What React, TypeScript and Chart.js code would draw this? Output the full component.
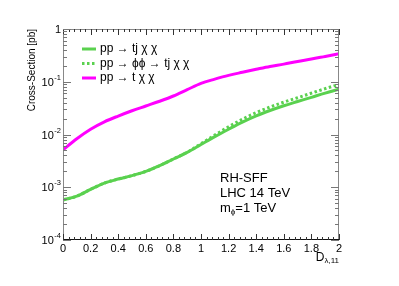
import React, { useEffect, useRef } from "react";
import { Chart, registerables } from "chart.js";

Chart.register(...registerables);

const dValues = [0, 0.1, 0.2, 0.3, 0.4, 0.5, 0.6, 0.7, 0.8, 0.9, 1.0, 1.1, 1.2, 1.3, 1.4, 1.5, 1.6, 1.7, 1.8, 1.9, 2.0];
const tjxx = [5.75e-4, 6.76e-4, 9.12e-4, 1.2e-3, 1.43e-3, 1.66e-3, 2.0e-3, 2.57e-3, 3.43e-3, 4.57e-3, 6.46e-3, 9.12e-3, 1.26e-2, 1.72e-2, 2.26e-2, 2.85e-2, 3.51e-2, 4.22e-2, 5.07e-2, 6.1e-2, 7.24e-2];
const phiphi = [5.75e-4, 6.76e-4, 9.12e-4, 1.2e-3, 1.43e-3, 1.66e-3, 2.0e-3, 2.57e-3, 3.43e-3, 4.62e-3, 6.68e-3, 9.77e-3, 1.4e-2, 1.95e-2, 2.6e-2, 3.31e-2, 4.1e-2, 4.98e-2, 6.07e-2, 7.41e-2, 8.91e-2];
const txx = [5.13e-3, 8.32e-3, 1.26e-2, 1.74e-2, 2.24e-2, 2.82e-2, 3.47e-2, 4.27e-2, 5.37e-2, 7.08e-2, 9.33e-2, 0.112, 0.132, 0.151, 0.172, 0.195, 0.216, 0.243, 0.269, 0.302, 0.339];

const seriesLabels = ["pp \u2192 tj \u03c7 \u03c7", "pp \u2192 \u03d5\u03d5 \u2192 tj \u03c7 \u03c7", "pp \u2192 t \u03c7 \u03c7"];
const yTicks = [1e-4, 1e-3, 1e-2, 1e-1, 1];
const yTickLabels: [string, string][] = [["10", "-4"], ["10", "-3"], ["10", "-2"], ["10", "-1"], ["1", ""]];
const xTicks = [0, 0.2, 0.4, 0.6, 0.8, 1, 1.2, 1.4, 1.6, 1.8, 2];
const annotations = ["RH-SFF", "LHC 14 TeV"];

const GREEN = "#5ad14f";
const MAGENTA = "#ff00ff";
const FONT = "'Liberation Sans', Arial, 'DejaVu Sans', sans-serif";

const drawPlugin = {
  id: "rootStyle",
  afterDatasetsDraw(chart: any) {
    const ctx: CanvasRenderingContext2D = chart.ctx;
    const { left, right, top, bottom } = chart.chartArea;
    const xs = chart.scales.x;
    const ys = chart.scales.y;
    ctx.save();
    // frame
    ctx.lineWidth = 1;
    ctx.strokeStyle = "#888";
    ctx.beginPath();
    ctx.moveTo(left + 0.5, bottom);
    ctx.lineTo(left + 0.5, top + 0.5);
    ctx.lineTo(right - 0.5, top + 0.5);
    ctx.lineTo(right - 0.5, bottom);
    ctx.stroke();
    ctx.strokeStyle = "#111";
    ctx.beginPath();
    ctx.moveTo(left, bottom - 0.5);
    ctx.lineTo(right, bottom - 0.5);
    ctx.stroke();

    // x ticks
    ctx.strokeStyle = "#333";
    for (let i = 0; i <= 50; i++) {
      const v = i * 0.04;
      const px = Math.round(xs.getPixelForValue(v)) + 0.5;
      const major = i % 5 === 0;
      const len = major ? 6 : 3;
      ctx.beginPath();
      ctx.moveTo(px, bottom);
      ctx.lineTo(px, bottom - len);
      ctx.moveTo(px, top);
      ctx.lineTo(px, top + len);
      ctx.stroke();
    }
    // y ticks
    ctx.strokeStyle = "#777";
    for (let e = -4; e <= 0; e++) {
      for (let m = 1; m <= 9; m++) {
        if (e === 0 && m > 1) break;
        const v = m * Math.pow(10, e);
        const py = Math.round(ys.getPixelForValue(v)) + 0.5;
        const len = m === 1 ? 8 : 4;
        ctx.beginPath();
        ctx.moveTo(left, py);
        ctx.lineTo(left + len, py);
        ctx.moveTo(right, py);
        ctx.lineTo(right - len, py);
        ctx.stroke();
      }
    }

    // y tick labels
    ctx.fillStyle = "#000";
    ctx.textBaseline = "middle";
    yTicks.forEach((v, i) => {
      const py = ys.getPixelForValue(v);
      const [base, exp] = yTickLabels[i];
      ctx.font = `7.5px ${FONT}`;
      const ew = exp ? ctx.measureText(exp).width : 0;
      ctx.textAlign = "right";
      ctx.fillText(exp, left - 2, py - 4);
      ctx.font = `11px ${FONT}`;
      ctx.fillText(base, left - 2 - ew - (exp ? 0.5 : 0), py + 1);
    });

    // legend
    const rows = [49, 63.5, 78];
    const colors = [GREEN, GREEN, MAGENTA];
    const dashes = [[], [2.5, 2.5], []];
    rows.forEach((ry, i) => {
      ctx.strokeStyle = colors[i];
      ctx.lineWidth = 3;
      ctx.setLineDash(dashes[i]);
      ctx.beginPath();
      ctx.moveTo(82, ry);
      ctx.lineTo(96, ry);
      ctx.stroke();
      ctx.setLineDash([]);
      ctx.fillStyle = "#000";
      ctx.font = `12px ${FONT}`;
      ctx.textAlign = "left";
      ctx.textBaseline = "middle";
      ctx.fillText(seriesLabels[i], 100, ry);
    });

    // annotations
    ctx.font = `13px ${FONT}`;
    ctx.textAlign = "left";
    ctx.textBaseline = "middle";
    ctx.fillText(annotations[0], 220, 178);
    ctx.fillText(annotations[1], 220, 193);
    let ax = 220;
    ctx.fillText("m", ax, 208);
    ax += ctx.measureText("m").width;
    ctx.font = `8px ${FONT}`;
    ctx.fillText("\u03d5", ax, 212);
    ax += ctx.measureText("\u03d5").width;
    ctx.font = `13px ${FONT}`;
    ctx.fillText("=1 TeV", ax, 208);

    // x title
    ctx.font = `8px ${FONT}`;
    const sub = "\u03bb,11";
    const sw = ctx.measureText(sub).width;
    ctx.textAlign = "right";
    ctx.fillText(sub, right, 261);
    ctx.font = `12px ${FONT}`;
    ctx.fillText("D", right - sw, 258);

    // y title
    ctx.save();
    ctx.translate(32, top);
    ctx.rotate(-Math.PI / 2);
    ctx.font = `10px ${FONT}`;
    ctx.textAlign = "right";
    ctx.textBaseline = "middle";
    ctx.fillText("Cross-Section [pb]", 0, 0);
    ctx.restore();

    ctx.restore();
  },
};

export default function App() {
  const ref = useRef<HTMLCanvasElement>(null);
  useEffect(() => {
    if (!ref.current) return;
    const mk = (arr: number[]) => dValues.map((x, i) => ({ x, y: arr[i] }));
    const chart = new Chart(ref.current, {
      type: "line",
      data: {
        datasets: [
          { label: seriesLabels[0], data: mk(tjxx), borderColor: GREEN, borderWidth: 3, pointRadius: 0, cubicInterpolationMode: "monotone", fill: false },
          { label: seriesLabels[1], data: mk(phiphi), borderColor: GREEN, borderWidth: 3, borderDash: [2.5, 2.5], pointRadius: 0, cubicInterpolationMode: "monotone", fill: false },
          { label: seriesLabels[2], data: mk(txx), borderColor: MAGENTA, borderWidth: 3, pointRadius: 0, cubicInterpolationMode: "monotone", fill: false },
        ],
      },
      options: {
        responsive: false,
        animation: false,
        layout: { padding: { top: 29, right: 60, left: 0, bottom: 0 } },
        plugins: { legend: { display: false }, tooltip: { enabled: false } },
        scales: {
          x: {
            type: "linear",
            min: 0,
            max: 2,
            grid: { display: false, drawTicks: false },
            border: { display: false },
            afterFit: (s: any) => { s.height = 46; },
            afterBuildTicks: (s: any) => { s.ticks = xTicks.map((v) => ({ value: v })); },
            ticks: {
              autoSkip: false,
              maxRotation: 0,
              padding: 2,
              color: "#000",
              font: { family: FONT, size: 11 },
              callback: (v: any) => String(Number(Number(v).toFixed(1))),
            },
          },
          y: {
            type: "logarithmic",
            min: 1e-4,
            max: 1,
            grid: { display: false, drawTicks: false },
            border: { display: false },
            afterFit: (s: any) => { s.width = 63; },
            afterBuildTicks: (s: any) => { s.ticks = yTicks.map((v) => ({ value: v })); },
            ticks: { display: false },
          },
        },
      },
      plugins: [drawPlugin],
    } as any);
    return () => chart.destroy();
  }, []);
  return (
    <div style={{ position: "absolute", left: 0, top: 0, width: 399, height: 286, background: "#fff" }}>
      <canvas ref={ref} width={399} height={286} />
    </div>
  );
}
